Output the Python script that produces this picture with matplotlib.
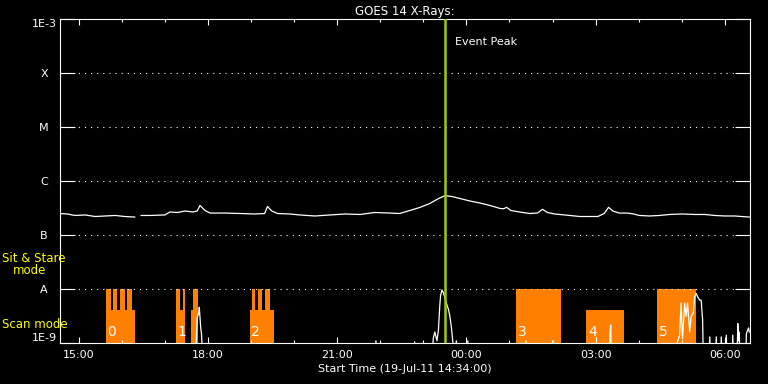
import datetime as dt

import matplotlib
matplotlib.use("Agg")
import matplotlib.pyplot as plt
import matplotlib.dates as mdates
from matplotlib.ticker import FixedLocator, NullLocator
import numpy as np

# GOES 14 X-ray flux, 19-Jul-11 14:34 to 20-Jul-11 ~06:35
t_start = dt.datetime(2011, 7, 19, 14, 34)
t_end = dt.datetime(2011, 7, 20, 6, 35)
event_peak = "23:30"

# long channel (1-8 A), W/m^2, nan = data gap
long_times = ["14:34", "14:44", "14:55", "15:09", "15:23", "15:37", "15:51", "16:04", "16:18", "16:22",
              "16:27", "16:39", "17:00", "17:07", "17:18", "17:28", "17:39", "17:45", "17:49", "17:56",
              "18:03", "18:24", "18:45", "19:05", "19:19", "19:23", "19:29", "19:37", "19:54", "20:08",
              "20:29", "20:50", "21:11", "21:32", "21:52", "22:13", "22:27", "22:41", "22:55", "23:09",
              "23:20", "23:30", "23:40", "23:51", "00:05", "00:19", "00:33", "00:47", "00:52", "00:56",
              "01:02", "01:14", "01:28", "01:39", "01:46", "01:53", "02:03", "02:24", "02:38", "02:52",
              "03:03", "03:12", "03:18", "03:24", "03:33", "03:43", "03:51", "04:01", "04:15", "04:29",
              "04:43", "05:01", "05:18", "05:32", "05:46", "06:00", "06:14", "06:23", "06:34"]
long_flux = [2.50e-7, 2.45e-7, 2.30e-7, 2.35e-7, 2.20e-7, 2.25e-7, 2.30e-7, 2.20e-7, 2.15e-7, np.nan,
             2.30e-7, 2.30e-7, 2.35e-7, 2.67e-7, 2.61e-7, 2.78e-7, 2.67e-7, 2.78e-7, 3.52e-7, 2.84e-7,
             2.55e-7, 2.55e-7, 2.50e-7, 2.45e-7, 2.50e-7, 3.37e-7, 2.78e-7, 2.50e-7, 2.45e-7, 2.35e-7,
             2.25e-7, 2.35e-7, 2.45e-7, 2.40e-7, 2.61e-7, 2.55e-7, 2.50e-7, 2.84e-7, 3.23e-7, 3.83e-7,
             4.64e-7, 5.35e-7, 5.16e-7, 4.74e-7, 4.26e-7, 3.91e-7, 3.52e-7, 3.10e-7, 3.06e-7, 3.26e-7,
             2.84e-7, 2.67e-7, 2.50e-7, 2.55e-7, 2.99e-7, 2.61e-7, 2.45e-7, 2.30e-7, 2.20e-7, 2.20e-7,
             2.20e-7, 2.50e-7, 3.26e-7, 2.78e-7, 2.55e-7, 2.55e-7, 2.48e-7, 2.30e-7, 2.25e-7, 2.30e-7,
             2.40e-7, 2.45e-7, 2.40e-7, 2.40e-7, 2.30e-7, 2.25e-7, 2.25e-7, 2.20e-7, 2.15e-7]

# short channel (0.5-4 A), mostly below the 1E-9 floor
short_times = ["14:34", "17:43", "17:45", "17:47", "17:48", "17:50", "17:51", "17:53",
               "21:53", "21:54", "21:55", "22:47", "22:48", "22:49",
               "23:12", "23:14", "23:16", "23:19", "23:21", "23:23", "23:24", "23:26", "23:28", "23:30",
               "23:32", "23:35", "23:37", "23:39", "23:41", "23:44", "23:46", "23:48",
               "00:01", "00:02", "00:03", "01:22", "01:23", "01:24", "01:59", "02:00", "02:01",
               "03:19", "03:20", "03:21", "03:22",
               "04:51", "04:54", "04:57", "04:59", "05:01", "05:04", "05:06", "05:08", "05:11", "05:13",
               "05:16", "05:18", "05:20", "05:22", "05:25", "05:27", "05:29", "05:30",
               "05:38", "05:39", "05:40", "05:47", "05:48", "05:49", "05:54", "05:55", "05:56",
               "06:01", "06:02", "06:03", "06:10", "06:11", "06:12",
               "06:17", "06:18", "06:19", "06:20", "06:21", "06:29", "06:30", "06:33", "06:34"]
short_flux = [5e-10, 5e-10, 2.9e-9, 3.5e-9, 4.6e-9, 1.9e-9, 1.5e-9, 5e-10,
              5e-10, 1.1e-9, 5e-10, 5e-10, 1.05e-9, 5e-10,
              5e-10, 1.25e-9, 1.6e-9, 1.1e-9, 1.7e-9, 5.0e-9, 7.5e-9, 9.6e-9, 8.5e-9, 7.0e-9,
              5.5e-9, 4.2e-9, 3.1e-9, 2.0e-9, 1.1e-9, 5e-10, 1.1e-9, 5e-10,
              5e-10, 1.1e-9, 5e-10, 5e-10, 1.1e-9, 5e-10, 5e-10, 1.1e-9, 5e-10,
              5e-10, 1.4e-9, 2.15e-9, 5e-10,
              5e-10, 1.06e-9, 1.4e-9, 5.5e-9, 1.2e-9, 5.5e-9, 3.1e-9, 5.5e-9, 1.6e-9, 3.1e-9,
              3.6e-9, 7.2e-9, 8.3e-9, 7.2e-9, 6.2e-9, 6.2e-9, 2.7e-9, 5e-10,
              5e-10, 1.3e-9, 5e-10, 5e-10, 1.3e-9, 5e-10, 5e-10, 1.3e-9, 5e-10,
              5e-10, 1.4e-9, 5e-10, 5e-10, 1.4e-9, 5e-10,
              5e-10, 2.3e-9, 1.1e-9, 1.6e-9, 5e-10, 5e-10, 1.5e-9, 1.9e-9, 1.6e-9]

# observing mode blocks
scan_top = 4e-9
sit_top = 1e-8
scan_start = ["15:38", "17:15", "17:36", "18:58", "02:47"]
scan_end = ["16:18", "17:28", "17:46", "19:32", "03:39"]
sit_start = ["15:38", "15:48", "15:57", "16:07", "17:15", "17:25", "17:39", "19:01", "19:10", "19:20",
             "01:09", "04:26"]
sit_end = ["15:45", "15:54", "16:04", "16:14", "17:21", "17:28", "17:46", "19:06", "19:16", "19:26",
           "02:12", "05:20"]
group_names = ["0", "1", "2", "3", "4", "5"]
group_start = ["15:38", "17:15", "18:58", "01:09", "02:47", "04:26"]

ytick_vals = [1e-9, 1e-8, 1e-7, 1e-6, 1e-5, 1e-4, 1e-3]
ytick_labels = ["1E-9", "A", "B", "C", "M", "X", "1E-3"]


def to_time(s):
    h, m = map(int, s.split(":"))
    day = 19 if h >= 12 else 20
    return dt.datetime(2011, 7, day, h, m)


def to_num(lst):
    return mdates.date2num([to_time(s) for s in lst])


W, H = 768, 384
fig = plt.figure(figsize=(W / 100, H / 100), dpi=100, facecolor="black")
ax = fig.add_axes([60 / W, 1 - 343 / H, 690 / W, 324 / H], facecolor="black")

orange = "#ff8000"
xs = to_num(scan_start)
ax.bar(xs, scan_top - 1e-9, width=to_num(scan_end) - xs, bottom=1e-9, align="edge",
       color=orange, linewidth=0, zorder=1)
xs = to_num(sit_start)
ax.bar(xs, sit_top - 1e-9, width=to_num(sit_end) - xs, bottom=1e-9, align="edge",
       color=orange, linewidth=0, zorder=1)

for name, t in zip(group_names, to_num(group_start)):
    ax.annotate(name, xy=(t, 1.58e-9), xytext=(1.2, 0), textcoords="offset points",
                color="white", fontsize=10, ha="left", va="center", zorder=3)

# dotted grid at the flare class levels
for y in ytick_vals[1:-1]:
    ax.axhline(y, color="white", lw=0.8, ls=(0, (1, 4.5)), zorder=2)

ax.plot(to_num(long_times), long_flux, color="white", lw=0.9, zorder=4)
ax.plot(to_num(short_times), short_flux, color="white", lw=0.9, zorder=4)

ev = mdates.date2num(to_time(event_peak))
ax.axvline(ev, color="#9ccc00", lw=1.8, zorder=5)
ax.annotate("Event Peak", xy=(ev, 1e-3), xytext=(7.5, -16.7), textcoords="offset points",
            color="white", fontsize=8, ha="left", va="center")

ax.set_yscale("log")
ax.set_ylim(1e-9, 1e-3)
ax.set_xlim(mdates.date2num(t_start), mdates.date2num(t_end))

ax.yaxis.set_major_locator(FixedLocator(ytick_vals))
ax.yaxis.set_minor_locator(NullLocator())
ax.set_yticklabels(ytick_labels)
ax.tick_params(axis="y", which="major", direction="in", length=10.5, width=0.8,
               left=True, right=True, colors="white", labelsize=8, pad=11.5)
for lab in ax.get_yticklabels():
    lab.set_ha("center")
    if lab.get_text() == "1E-3":
        lab.set_va("top")
    elif lab.get_text() == "1E-9":
        lab.set_va("bottom")

ax.xaxis.set_major_locator(mdates.HourLocator(byhour=range(0, 24, 3)))
ax.xaxis.set_minor_locator(mdates.HourLocator())
ax.xaxis.set_major_formatter(mdates.DateFormatter("%H:%M"))
ax.tick_params(axis="x", which="major", direction="in", length=4.3, width=0.8,
               top=True, bottom=True, colors="white", labelsize=8, pad=5)
ax.tick_params(axis="x", which="minor", direction="in", length=2.2, width=0.8,
               top=True, bottom=True, colors="white")

for sp in ax.spines.values():
    sp.set_color("white")
    sp.set_linewidth(0.8)

ax.set_title("GOES 14 X-Rays:", color="white", fontsize=8.5, pad=3)
fig.text(405 / W, 1 - 369 / H, "Start Time (19-Jul-11 14:34:00)", color="white",
         fontsize=8, ha="center", va="center")

yellow = "#ffff00"
fig.text(2 / W, 1 - 259 / H, "Sit & Stare", color=yellow, fontsize=8.5, ha="left", va="center")
fig.text(13 / W, 1 - 271 / H, "mode", color=yellow, fontsize=8.5, ha="left", va="center")
fig.text(2 / W, 1 - 324 / H, "Scan mode", color=yellow, fontsize=8.5, ha="left", va="center")

fig.savefig("out.png", dpi=100, facecolor="black")
